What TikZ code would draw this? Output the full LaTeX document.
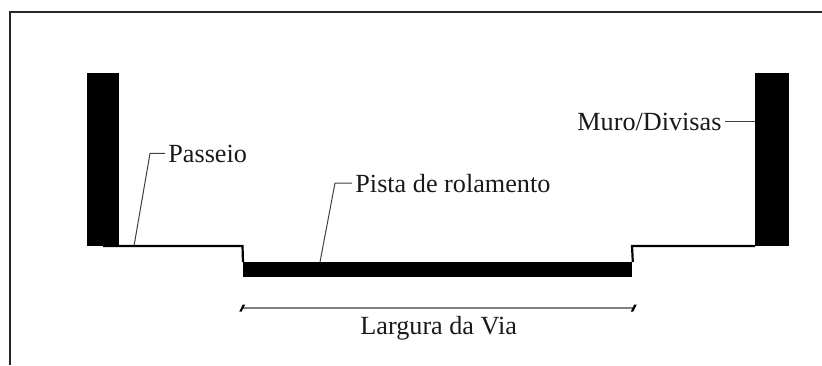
\documentclass[tikz,border=0pt]{standalone}
\usepackage{tikz}
\usepackage{xcolor}
\usepackage{fontspec}
\setmainfont{Liberation Serif}
\usetikzlibrary{calc,positioning,arrows.meta}

\tikzset{
    muro/.style={fill=black, draw=none, inner sep=0pt, anchor=north west},
    rotulo/.style={inner sep=0pt, anchor=base west, text=black!90, font=\fontsize{13.1}{15}\selectfont},
    guia/.style={line width=0.5pt, draw=black!75},
    perfil/.style={line width=1.1pt, line join=miter},
    moldura/.style={line width=0.7pt, draw=black!85},
    cota/.style={line width=0.6pt, draw=black!50, {Bar[width=3.5pt,line width=1.2pt,slant=0.5,black]}-{Bar[width=3.5pt,line width=1.2pt,slant=0.5,black]}}
}

\begin{document}
\begin{tikzpicture}[x=0.5pt, y=-0.5pt]
        \useasboundingbox (0,0) rectangle (822,365);
        % moldura
        \coordinate (mold1) at (10,365);
        \coordinate (mold2) at (10,12);
        \coordinate (mold3) at (822,12);
        \draw[moldura] (mold1) -- (mold2) -- (mold3);

        % muros e pista
        \node[muro, minimum width=16pt, minimum height=86.5pt] (muroEsq) at (87,73) {};
        \node[muro, minimum width=17pt, minimum height=86.5pt] (muroDir) at (755,73) {};
        \node[muro, minimum width=194.5pt, minimum height=7.5pt] (pista) at (243,262) {};

        % passeios
        \coordinate (passeioEsq) at (103,246);
        \coordinate (degrauEsq) at (242.5,246);
        \coordinate (degrauDir) at (632,246);
        \draw[perfil] (passeioEsq) -- (degrauEsq) -- (pista.north west);
        \draw[perfil] (pista.north east) -- (degrauDir) -- (muroDir.west |- degrauDir);

        % rotulos
        \node[rotulo] (lblPasseio) at (168,162) {Passeio};
        \node[rotulo] (lblPista) at (355,192) {Pista de rolamento};
        \node[rotulo] (lblMuro) at (577,130) {Muro/Divisas};
        \node[rotulo] (lblVia) at (360,334) {Largura da Via};

        \coordinate (pePasseio) at (134,246);
        \coordinate (pePista) at (320,262);
        \draw[guia] (lblPasseio.west) ++(-3,0) -- ++(-15,0) -- (pePasseio);
        \draw[guia] (lblPista.west) ++(-3,0) -- ++(-17,0) -- (pePista);
        \draw[guia] (lblMuro.east) ++(3,0) -- (muroDir.west |- lblMuro.east);

        % cota
        \coordinate (cotaEsq) at (241,308);
        \coordinate (cotaDir) at (635,308);
        \draw[cota] (cotaEsq) -- (cotaDir);
    \end{tikzpicture}
\end{document}
